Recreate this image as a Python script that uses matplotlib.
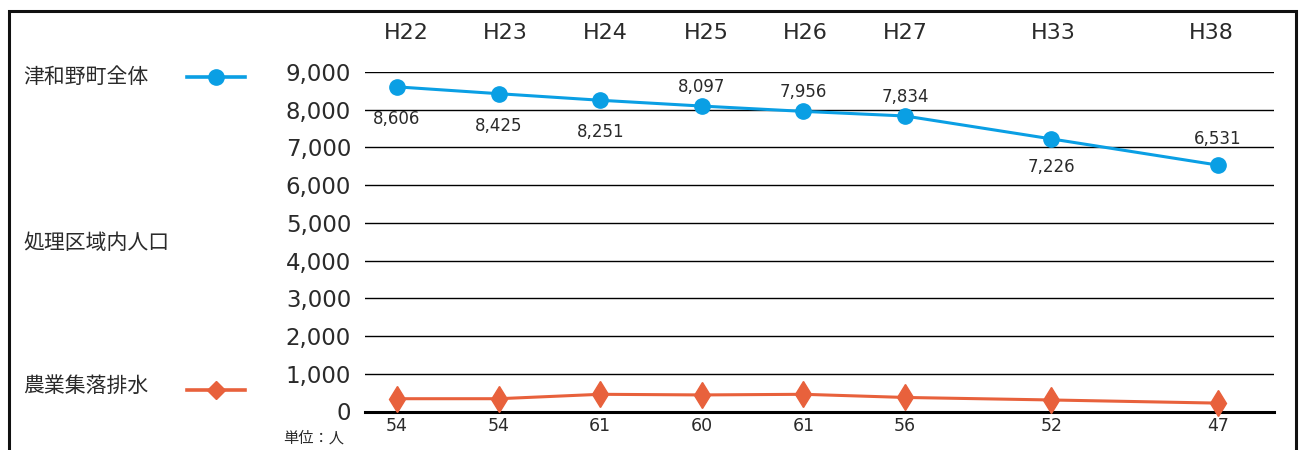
import matplotlib

matplotlib.use("Agg")
from matplotlib import pyplot as plt
from matplotlib.lines import Line2D
from matplotlib.patches import Rectangle
from matplotlib.ticker import FuncFormatter

plt.rcParams["font.family"] = ["DejaVu Sans", "Noto Sans CJK JP"]

YEARS = ["H22", "H23", "H24", "H25", "H26", "H27", "H33", "H38"]
# horizontal slot of each year on the chart (later years are spaced wider)
X_POS = [0, 1, 2, 3, 4, 5, 6.44, 8.08]
# year headers sit a little off their columns
HEADER_POS = [0.09, 1.07, 2.05, 3.04, 4.02, 5.0, 6.46, 8.01]
TOWN_TOTAL = [8606, 8425, 8251, 8097, 7956, 7834, 7226, 6531]
RURAL_SEWAGE = [54, 54, 61, 60, 61, 56, 52, 47]
# which side of the point each town label sits on
TOWN_LABEL_SIDE = ["below", "below", "below", "above", "above", "above", "below", "above"]

BLUE = "#0A9FE4"
ORANGE = "#E8613C"
TEXT = "#2a2a2a"
JP = ["Noto Sans CJK JP", "DejaVu Sans"]

W, H = 1301, 450
fig = plt.figure(figsize=(W / 100, H / 100), dpi=100)


def fx(px):
    return px / W


def fy(py):
    return 1 - py / H


ax = fig.add_axes([fx(365), fy(411.5), fx(1274) - fx(365), fy(72) - fy(411.5)])
ax.set_xlim(-0.315, 8.63)
ax.set_ylim(0, 9000)
for s in ax.spines.values():
    s.set_visible(False)

ax.set_yticks(range(0, 9001, 1000))
ax.yaxis.set_major_formatter(FuncFormatter(lambda v, _: f"{int(v):,}"))
ax.tick_params(axis="y", length=0, pad=10, labelsize=16.5, labelcolor=TEXT)
for v in range(1000, 9001, 1000):
    ax.axhline(v, color="black", linewidth=1.0, zorder=1)
ax.axhline(0, color="black", linewidth=2.2, zorder=1, clip_on=False)

ax.set_xticks([])
for x, label in zip(HEADER_POS, YEARS):
    ax.annotate(label, (x, 9000), xytext=(0, 28), textcoords="offset points",
                ha="center", va="center", fontsize=16, color=TEXT)

ax.plot(X_POS, TOWN_TOTAL, color=BLUE, linewidth=2.2, marker="o",
        markersize=11, zorder=4, clip_on=False)
for x, v, side in zip(X_POS, TOWN_TOTAL, TOWN_LABEL_SIDE):
    dy = -23 if side == "below" else 14
    if x > 6:
        dy = -20 if side == "below" else 19
    ax.annotate(f"{v:,}", (x, v), xytext=(0, dy), textcoords="offset points",
                ha="center", va="center", fontsize=12, color=TEXT)

# rural sewage population runs on its own hidden scale
ax2 = ax.twinx()
ax2.set_ylim(33.7, 572.6)
ax2.axis("off")
ax2.plot(X_POS, RURAL_SEWAGE, color=ORANGE, linewidth=2.2, marker="d",
         markersize=13, zorder=4, clip_on=False)
for x, v in zip(X_POS, RURAL_SEWAGE):
    ax.annotate(f"{v}", (x, 0), xytext=(0, -10.5), textcoords="offset points",
                ha="center", va="center", fontsize=12.5, color=TEXT)

# left-hand legend
fig.text(fx(23), fy(77), "津和野町全体", family=JP, fontsize=15, va="center", color=TEXT)
fig.text(fx(23), fy(243), "処理区域内人口", family=JP, fontsize=15, va="center", color=TEXT)
fig.text(fx(23), fy(386), "農業集落排水", family=JP, fontsize=15, va="center", color=TEXT)
fig.add_artist(Line2D([fx(187), fx(245)], [fy(77), fy(77)], color=BLUE, linewidth=2.6,
                      transform=fig.transFigure))
fig.add_artist(Line2D([fx(216)], [fy(77)], color=BLUE, marker="o", markersize=11,
                      linestyle="none", transform=fig.transFigure))
fig.add_artist(Line2D([fx(187), fx(245)], [fy(390), fy(390)], color=ORANGE, linewidth=2.6,
                      transform=fig.transFigure))
fig.add_artist(Line2D([fx(216)], [fy(390)], color=ORANGE, marker="D", markersize=9.5,
                      linestyle="none", transform=fig.transFigure))

fig.text(fx(283), fy(438), "単位：人", family=JP, fontsize=11, va="center", color=TEXT)

# outer frame, open past the bottom edge
fig.add_artist(Rectangle((fx(9), fy(470)), fx(1296) - fx(9), fy(11) - fy(470),
                         fill=False, edgecolor="#111111", linewidth=2.2,
                         transform=fig.transFigure))

fig.savefig("out.png", dpi=100)
